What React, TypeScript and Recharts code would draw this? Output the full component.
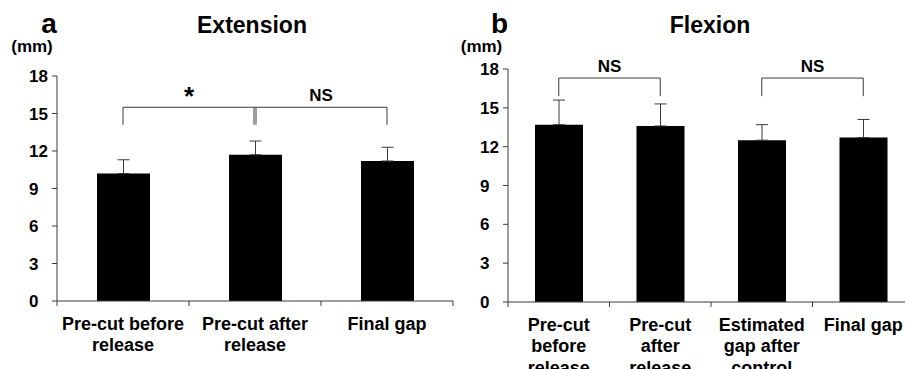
import React from 'react';
import { BarChart, Bar, XAxis, YAxis, ErrorBar, ReferenceLine } from 'recharts';

// values (mm)
const extCategories = ['Pre-cut before release', 'Pre-cut after release', 'Final gap'];
const extLabels = [['Pre-cut before', 'release'], ['Pre-cut after', 'release'], ['Final gap']];
const extMeans = [10.2, 11.7, 11.2];
const extSD = [1.1, 1.1, 1.1];

const flexCategories = ['Pre-cut before release', 'Pre-cut after release', 'Estimated gap after control', 'Final gap'];
const flexLabels = [
  ['Pre-cut', 'before', 'release'],
  ['Pre-cut', 'after', 'release'],
  ['Estimated', 'gap after', 'control'],
  ['Final gap']
];
const flexMeans = [13.7, 13.6, 12.5, 12.7];
const flexSD = [1.9, 1.7, 1.2, 1.4];

const yTicks = [0, 3, 6, 9, 12, 15, 18];

const extBrackets = [
  { from: 0, to: 1, top: 15.5, leg: 14.1, text: '*' },
  { from: 1, to: 2, top: 15.5, leg: 14.1, text: 'NS' }
];
const flexBrackets = [
  { from: 0, to: 1, top: 17.3, leg: 15.9, text: 'NS' },
  { from: 2, to: 3, top: 17.3, leg: 15.9, text: 'NS' }
];

const FONT = '"Liberation Sans", Arial, sans-serif';
const AXIS = '#3a3a3a';

type Bracket = { from: number; to: number; top: number; leg: number; text: string };

type PanelProps = {
  categories: string[];
  labels: string[][];
  means: number[];
  sd: number[];
  brackets: Bracket[];
  left: number;
  width: number;
  margin: { top: number; right: number; bottom: number; left: number };
  yWidth: number;
  barSize: number;
};

function Panel({ categories, labels, means, sd, brackets, left, width, margin, yWidth, barSize }: PanelProps) {
  const height = 369;
  const data = categories.map((name, i) => ({ name, mean: means[i], err: [0, sd[i]] }));
  const plotW = width - margin.left - margin.right - yWidth;
  const half = plotW / categories.length / 2;

  const XTick = (props: any) => {
    const { x, y, payload } = props;
    const idx = categories.indexOf(payload.value);
    const lines = labels[idx] || [];
    return (
      <g>
        <line x1={x - half} y1={y} x2={x - half} y2={y + 5} stroke={AXIS} />
        {idx === categories.length - 1 && <line x1={x + half} y1={y} x2={x + half} y2={y + 5} stroke={AXIS} />}
        <text x={x} y={y + 28.5} textAnchor="middle" fontFamily={FONT} fontSize={18} fill="#000" fontWeight={700}>
          {lines.map((l, i) => (
            <tspan key={i} x={x} dy={i === 0 ? 0 : 21.5}>
              {l}
            </tspan>
          ))}
        </text>
      </g>
    );
  };

  const YTick = (props: any) => {
    const { x, y, payload } = props;
    return (
      <text x={x - 23} y={y + 6} textAnchor="start" fontFamily={FONT} fontSize={17} fill="#000" fontWeight={700}>
        {payload.value}
      </text>
    );
  };

  // shift a bracket leg by a pixel when two brackets meet on the same bar
  const legShape = (dx: number) => (p: any) => (
    <line x1={p.x1 + dx} y1={p.y1} x2={p.x2 + dx} y2={p.y2} stroke={AXIS} strokeWidth={1} />
  );

  return (
    <div style={{ position: 'absolute', left, top: 0 }}>
      <BarChart width={width} height={height} data={data} margin={margin}>
        <XAxis
          dataKey="name"
          height={60}
          interval={0}
          tickLine={false}
          tickSize={0}
          tickMargin={0}
          stroke={AXIS}
          tick={XTick}
        />
        <YAxis
          type="number"
          domain={[0, 18]}
          ticks={yTicks}
          interval={0}
          width={yWidth}
          tickSize={5}
          tickMargin={0}
          stroke={AXIS}
          tick={YTick}
        />
        <Bar dataKey="mean" fill="#000" barSize={barSize} isAnimationActive={false}>
          <ErrorBar dataKey="err" direction="y" width={6} stroke={AXIS} strokeWidth={1} isAnimationActive={false} />
        </Bar>
        {brackets.map((b, i) => {
          const shared = (k: number) => brackets.some((o, j) => j !== i && (o.from === k || o.to === k));
          return (
            <React.Fragment key={i}>
              <ReferenceLine
                segment={[
                  { x: categories[b.from], y: b.top },
                  { x: categories[b.to], y: b.top }
                ]}
                stroke={AXIS}
                strokeOpacity={1}
                ifOverflow="visible"
                label={{
                  value: b.text,
                  position: 'top',
                  offset: b.text === '*' ? 2 : 6,
                  fill: '#000',
                  fontFamily: FONT,
                  fontWeight: 'bold',
                  fontSize: b.text === '*' ? 26 : 17
                }}
              />
              <ReferenceLine
                segment={[
                  { x: categories[b.from], y: b.top },
                  { x: categories[b.from], y: b.leg }
                ]}
                ifOverflow="visible"
                shape={legShape(shared(b.from) ? 1 : 0)}
              />
              <ReferenceLine
                segment={[
                  { x: categories[b.to], y: b.top },
                  { x: categories[b.to], y: b.leg }
                ]}
                ifOverflow="visible"
                shape={legShape(shared(b.to) ? -1 : 0)}
              />
            </React.Fragment>
          );
        })}
      </BarChart>
    </div>
  );
}

export default function App() {
  const txt = { fontFamily: FONT, fontWeight: 'bold' as const, fill: '#000' };
  return (
    <div style={{ position: 'absolute', left: 0, top: 0, width: 905, height: 369, overflow: 'hidden', background: '#fff' }}>
      <Panel
        categories={extCategories}
        labels={extLabels}
        means={extMeans}
        sd={extSD}
        brackets={extBrackets}
        left={0}
        width={470}
        margin={{ top: 76, right: 17, bottom: 8, left: 0 }}
        yWidth={57}
        barSize={53}
      />
      <Panel
        categories={flexCategories}
        labels={flexLabels}
        means={flexMeans}
        sd={flexSD}
        brackets={flexBrackets}
        left={450}
        width={470}
        margin={{ top: 69, right: 6, bottom: 7, left: 0 }}
        yWidth={58}
        barSize={48}
      />
      <svg width={905} height={369} style={{ position: 'absolute', left: 0, top: 0, pointerEvents: 'none' }}>
        <text x={49} y={33} textAnchor="middle" fontSize={28} {...txt}>a</text>
        <text x={252} y={32.5} textAnchor="middle" fontSize={23} {...txt}>Extension</text>
        <text x={32} y={52} textAnchor="middle" fontSize={17} {...txt}>(mm)</text>
        <text x={499.5} y={33} textAnchor="middle" fontSize={28} {...txt}>b</text>
        <text x={710} y={32.5} textAnchor="middle" fontSize={23} {...txt}>Flexion</text>
        <text x={481.5} y={52} textAnchor="middle" fontSize={17} {...txt}>(mm)</text>
      </svg>
    </div>
  );
}
